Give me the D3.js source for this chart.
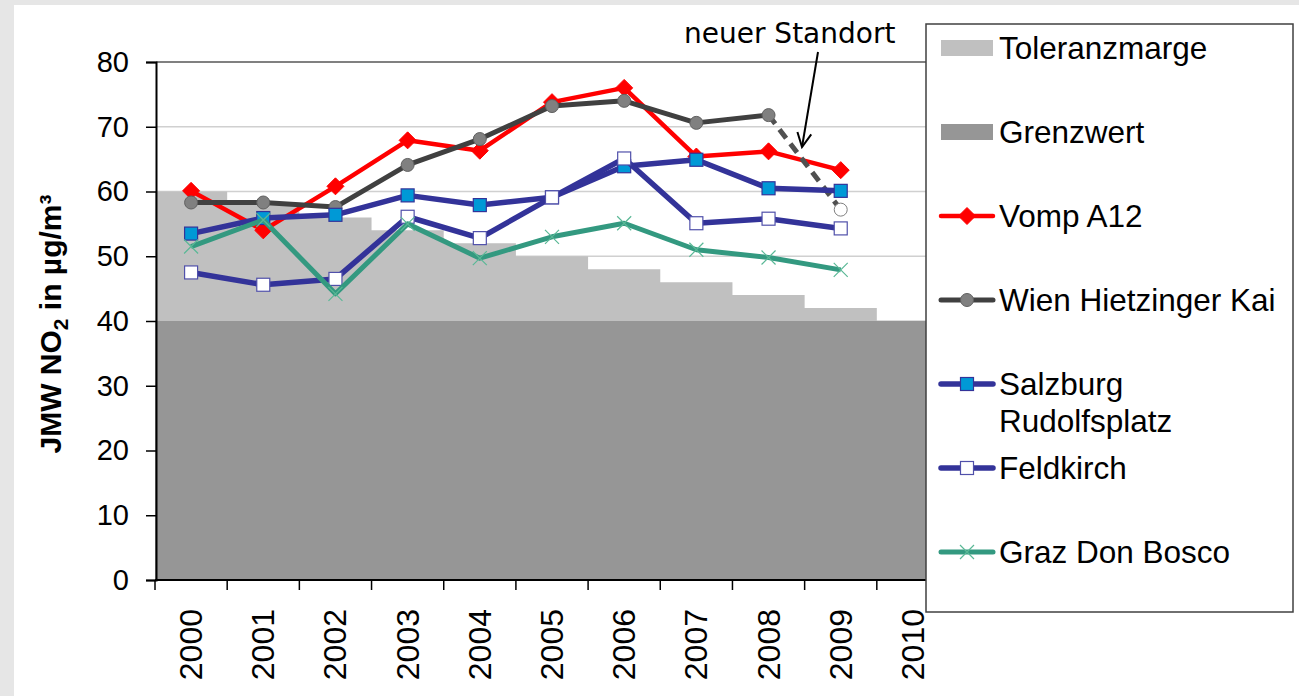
<!DOCTYPE html>
<html>
<head>
<meta charset="utf-8">
<script src="https://cdn.jsdelivr.net/npm/d3@7"></script>
<style>
  body { margin:0; background:#e6e6e6; }
  svg { display:block; }
</style>
</head>
<body>
<svg id="chart" width="1299" height="696" font-family="Liberation Sans, Arial, sans-serif"></svg>
<script>
// categories
var years = [2000,2001,2002,2003,2004,2005,2006,2007,2008,2009,2010];
var yTicks = [0,10,20,30,40,50,60,70,80];
// limit value and tolerance margin (stacked)
var grenzwert = [40,40,40,40,40,40,40,40,40,40,40];
var toleranz  = [20,18,16,14,12,10,8,6,4,2,0];
// station series, 2000..2009
var vomp      = [60.1,54.0,60.8,67.9,66.3,73.8,76.0,65.4,66.2,63.3];
var wien      = [58.3,58.3,57.6,64.1,68.1,73.2,74.0,70.6,71.8];
var wienNeu   = [57.2]; // 2009, neuer Standort
var salzburg  = [53.5,55.9,56.4,59.4,57.9,59.1,63.9,64.9,60.5,60.1];
var feldkirch = [47.5,45.6,46.5,56.1,52.8,59.1,65.1,55.1,55.8,54.3];
var graz      = [51.5,55.6,44.2,55.0,49.7,53.0,55.1,51.0,49.8,47.9];

var svg = d3.select("#chart");
svg.append("rect").attr("x",14).attr("y",5).attr("width",1285).attr("height",691).attr("fill","white");

var x = d3.scaleBand().domain(years).range([155,949]).padding(0);
var y = d3.scaleLinear().domain([0,80]).range([580,62]);
var bw = x.bandwidth();
var cx = function(i){ return x(years[i]) + bw/2; };

// gridlines
svg.append("g").selectAll("line").data(yTicks.filter(function(d){return d>0 && d<80;})).enter()
  .append("line").attr("x1",156).attr("x2",949).attr("y1",function(d){return y(d);}).attr("y2",function(d){return y(d);})
  .attr("stroke","#d0d0d0").attr("stroke-width",1.5);

// stacked steps (columns without gaps)
var steps = years.concat(["end"]);
var xs = function(d){ return d==="end" ? x(2010)+bw : x(d); };
var idx = function(i){ return Math.min(i, years.length-1); };
var tolArea = d3.area().curve(d3.curveStepAfter)
  .x(function(d){return xs(d);})
  .y0(function(d,i){return y(grenzwert[idx(i)]);})
  .y1(function(d,i){return y(grenzwert[idx(i)]+toleranz[idx(i)]);});
var gwArea = d3.area().curve(d3.curveStepAfter)
  .x(function(d){return xs(d);})
  .y0(y(0))
  .y1(function(d,i){return y(grenzwert[idx(i)]);});
svg.append("path").datum(steps).attr("d",tolArea).attr("fill","#c0c0c0");
svg.append("path").datum(steps).attr("d",gwArea).attr("fill","#969696");

// top border at 80
svg.append("line").attr("x1",156).attr("x2",949).attr("y1",y(80)).attr("y2",y(80)).attr("stroke","#808080").attr("stroke-width",2);

// y axis
var yAxis = svg.append("g").attr("transform","translate(156,0)")
  .call(d3.axisLeft(y).tickValues(yTicks).tickSize(10).tickPadding(17));
yAxis.select(".domain").attr("stroke","#000").attr("stroke-width",2);
yAxis.selectAll(".tick line").attr("stroke","#000").attr("stroke-width",1.5);
yAxis.selectAll(".tick text").attr("font-size",29).attr("font-family","Liberation Sans, Arial, sans-serif").attr("fill","#000");

// x axis
var xAxis = svg.append("g");
xAxis.append("line").attr("x1",155).attr("x2",949).attr("y1",580).attr("y2",580).attr("stroke","#000").attr("stroke-width",2);
xAxis.selectAll("line.tk").data(steps).enter().append("line").attr("class","tk")
  .attr("x1",xs).attr("x2",xs)
  .attr("y1",580).attr("y2",590).attr("stroke","#000").attr("stroke-width",1.5);
xAxis.selectAll("text").data(years).enter().append("text")
  .attr("transform",function(d){return "translate(" + (x(d)+bw/2+11) + ",609) rotate(-90)";})
  .attr("text-anchor","end").attr("font-size",32).attr("fill","#000").text(function(d){return d;});

// y title
var yt = svg.append("text").attr("transform","translate(61,324) rotate(-90)")
  .attr("text-anchor","middle").attr("font-size",30).attr("font-weight","bold").attr("fill","#000");
yt.append("tspan").text("JMW NO");
yt.append("tspan").attr("dy",7).attr("font-size",21).text("2");
yt.append("tspan").attr("dy",-7).text(" in µg/m³");

// series
var series = [
  {name:"Vomp A12", values:vomp, line:"#ff0000", lw:4.5, marker:"diamond", fill:"#ff0000", stroke:"#ff0000"},
  {name:"Wien Hietzinger Kai", values:wien, line:"#404040", lw:5, marker:"circle", fill:"#808080", stroke:"#606060"},
  {name:"Salzburg Rudolfsplatz", values:salzburg, line:"#333399", lw:5.5, marker:"square", fill:"#0099d6", stroke:"#333399"},
  {name:"Feldkirch", values:feldkirch, line:"#333399", lw:5.5, marker:"square", fill:"#ffffff", stroke:"#5050aa"},
  {name:"Graz Don Bosco", values:graz, line:"#339980", lw:5, marker:"cross", fill:"none", stroke:"#5ab896"}
];

function drawMarker(g, type, px, py, fill, stroke){
  if(type==="diamond"){
    g.append("path").attr("d","M"+px+","+(py-8.5)+"L"+(px+8.5)+","+py+"L"+px+","+(py+8.5)+"L"+(px-8.5)+","+py+"Z")
      .attr("fill",fill).attr("stroke",stroke);
  } else if(type==="circle"){
    g.append("circle").attr("cx",px).attr("cy",py).attr("r",6.5).attr("fill",fill).attr("stroke",stroke).attr("stroke-width",1);
  } else if(type==="square"){
    g.append("rect").attr("x",px-6.5).attr("y",py-6.5).attr("width",13).attr("height",13).attr("fill",fill).attr("stroke",stroke).attr("stroke-width",1.2);
  } else if(type==="cross"){
    g.append("path").attr("d","M"+(px-7)+","+(py-7)+"L"+(px+7)+","+(py+7)+"M"+(px+7)+","+(py-7)+"L"+(px-7)+","+(py+7))
      .attr("stroke",stroke).attr("stroke-width",1.2).attr("fill","none");
  }
}

var line = d3.line().x(function(d,i){return cx(i);}).y(function(d){return y(d);});
var plot = svg.append("g");
series.forEach(function(s){
  var g = plot.append("g");
  if(s.name==="Wien Hietzinger Kai"){
    // dashed link to the new site in 2009
    g.append("line").attr("x1",cx(8)).attr("y1",y(wien[8])).attr("x2",cx(9)).attr("y2",y(wienNeu[0]))
      .attr("stroke","#505050").attr("stroke-width",5).attr("stroke-dasharray","11,7");
  }
  g.append("path").datum(s.values).attr("d",line).attr("fill","none")
    .attr("stroke",s.line).attr("stroke-width",s.lw).attr("stroke-linejoin","round");
  s.values.forEach(function(v,i){ drawMarker(g, s.marker, cx(i), y(v), s.fill, s.stroke); });
  if(s.name==="Wien Hietzinger Kai"){
    drawMarker(g, "circle", cx(9), y(wienNeu[0]), "#ffffff", "#808080");
  }
});

// annotation
svg.append("defs").append("marker").attr("id","arr").attr("viewBox","0 0 20 20").attr("refX",18).attr("refY",10)
  .attr("markerWidth",20).attr("markerHeight",20).attr("markerUnits","userSpaceOnUse").attr("orient","auto")
  .append("path").attr("d","M4,3 L18,10 L4,17").attr("fill","none").attr("stroke","#000").attr("stroke-width",2);
svg.append("text").attr("x",684).attr("y",43).attr("font-family","DejaVu Sans, sans-serif").attr("font-size",28)
  .attr("fill","#000").text("neuer Standort");
svg.append("line").attr("x1",818).attr("y1",52).attr("x2",802).attr("y2",147)
  .attr("stroke","#000").attr("stroke-width",2).attr("marker-end","url(#arr)");

// legend
var lg = svg.append("g");
lg.append("rect").attr("x",926).attr("y",24).attr("width",367).attr("height",588)
  .attr("fill","#fff").attr("stroke","#404040").attr("stroke-width",1.5);
var legendItems = [
  {label:["Toleranzmarge"], type:"box", fill:"#c0c0c0", ys:48},
  {label:["Grenzwert"], type:"box", fill:"#969696", ys:132}
].concat(series.map(function(s,i){
  return {label: s.name==="Salzburg Rudolfsplatz" ? ["Salzburg","Rudolfsplatz"] : [s.name], type:"series", s:s, ys:216 + i*84};
}));
legendItems.forEach(function(it){
  if(it.type==="box"){
    lg.append("rect").attr("x",941).attr("y",it.ys-8).attr("width",52).attr("height",16).attr("fill",it.fill);
  } else {
    lg.append("line").attr("x1",941).attr("x2",993).attr("y1",it.ys).attr("y2",it.ys)
      .attr("stroke",it.s.line).attr("stroke-width",it.s.lw).attr("stroke-linecap","round");
    drawMarker(lg, it.s.marker, 967, it.ys, it.s.fill, it.s.stroke);
  }
  var t = lg.append("text").attr("x",999).attr("y",it.ys+11).attr("font-size",31.5).attr("fill","#000");
  it.label.forEach(function(l,k){
    t.append("tspan").attr("x",999).attr("dy",k===0?0:37).text(l);
  });
});
</script>
</body>
</html>
